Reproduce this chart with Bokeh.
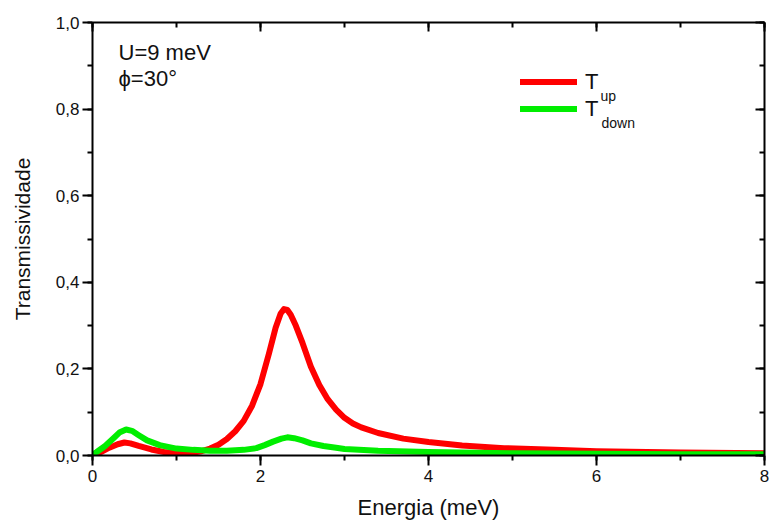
from bokeh.plotting import figure
from bokeh.models import (Range1d, LinearAxis, SingleIntervalTicker, CustomJSTickFormatter,
                          Legend, LegendItem, Label)
from bokeh.embed import file_html
from bokeh.resources import INLINE

# ---- data ----
E_up = [0.0, 0.1, 0.2, 0.3, 0.38, 0.45, 0.55, 0.7, 0.85, 1.0, 1.1, 1.2, 1.3, 1.4, 1.5, 1.6,
        1.7, 1.8, 1.9, 2.0, 2.1, 2.18, 2.24, 2.28, 2.32, 2.36, 2.42, 2.5, 2.6, 2.7, 2.8, 2.9,
        3.0, 3.1, 3.2, 3.4, 3.7, 4.0, 4.4, 4.9, 5.5, 6.0, 7.0, 8.0]
T_up = [0.0, 0.008, 0.018, 0.026, 0.030, 0.028, 0.022, 0.014, 0.008, 0.005, 0.005, 0.007,
        0.010, 0.016, 0.025, 0.038, 0.056, 0.08, 0.115, 0.165, 0.235, 0.295, 0.328, 0.338,
        0.336, 0.325, 0.30, 0.26, 0.205, 0.163, 0.13, 0.106, 0.087, 0.074, 0.065, 0.052,
        0.039, 0.031, 0.023, 0.017, 0.013, 0.010, 0.007, 0.005]

E_down = [0.0, 0.05, 0.15, 0.25, 0.32, 0.4, 0.47, 0.55, 0.65, 0.8, 1.0, 1.2, 1.4, 1.6, 1.8,
          1.95, 2.05, 2.15, 2.25, 2.32, 2.4, 2.5, 2.6, 2.75, 2.9, 3.0, 3.4, 4.0, 5.0, 6.0,
          7.0, 8.0]
T_down = [0.002, 0.008, 0.022, 0.040, 0.053, 0.060, 0.057, 0.047, 0.035, 0.024, 0.016, 0.013,
          0.011, 0.011, 0.013, 0.017, 0.024, 0.032, 0.039, 0.042, 0.040, 0.035, 0.028, 0.022,
          0.018, 0.015, 0.011, 0.008, 0.005, 0.004, 0.003, 0.003]

FONT = "Liberation Sans"

p = figure(width=770, height=522, output_backend="svg", toolbar_location=None,
           x_range=Range1d(0, 8), y_range=Range1d(0, 1.0),
           min_border_left=92, min_border_right=6, min_border_top=22, min_border_bottom=66,
           x_axis_label="Energia (meV)", y_axis_label="Transmissividade")
p.grid.visible = False
p.outline_line_color = None
p.background_fill_color = "white"
p.border_fill_color = "white"

fmt = CustomJSTickFormatter(code="return tick.toFixed(1).replace('.', ',');")
fmt_x = CustomJSTickFormatter(code="return tick.toFixed(0);")
fmt_none = CustomJSTickFormatter(code="return '';")

def style(ax, outward=True):
    ax.axis_line_width = 2
    ax.axis_line_color = "black"
    ax.major_tick_line_width = 2
    ax.minor_tick_line_width = 2
    ax.major_tick_line_color = "black"
    ax.minor_tick_line_color = "black"
    if outward:
        ax.major_tick_out = 10
        ax.major_tick_in = 0
        ax.minor_tick_out = 5
        ax.minor_tick_in = 0
    else:
        ax.major_tick_out = 0
        ax.major_tick_in = 9
        ax.minor_tick_out = 0
        ax.minor_tick_in = 5
    ax.major_label_text_font = FONT
    ax.major_label_text_font_size = "17px"
    ax.major_label_text_color = "#111111"
    ax.axis_label_text_font = FONT
    ax.axis_label_text_font_style = "normal"
    ax.axis_label_text_font_size = "21px"
    ax.axis_label_text_color = "#111111"

p.xaxis.ticker = SingleIntervalTicker(interval=2, num_minor_ticks=2)
p.yaxis.ticker = SingleIntervalTicker(interval=0.2, num_minor_ticks=2)
p.xaxis.formatter = fmt_x
p.yaxis.formatter = fmt
for ax in p.xaxis:
    style(ax)
    ax.major_label_standoff = 4
    ax.axis_label_standoff = 10
    ax.axis_label_text_font_size = "22px"
for ax in p.yaxis:
    style(ax)
    ax.major_label_standoff = 3
    ax.axis_label_standoff = 19

top = LinearAxis(ticker=SingleIntervalTicker(interval=2, num_minor_ticks=2), formatter=fmt_none)
right = LinearAxis(ticker=SingleIntervalTicker(interval=0.2, num_minor_ticks=2), formatter=fmt_none)
for ax in (top, right):
    style(ax, outward=False)
    ax.major_label_standoff = 0
p.add_layout(top, "above")
p.add_layout(right, "right")

r_up = p.line(E_up, T_up, line_color="#ff0000", line_width=6, line_join="round", line_cap="round")
r_dn = p.line(E_down, T_down, line_color="#00ee00", line_width=6, line_join="round", line_cap="round")

legend = Legend(items=[LegendItem(label="T", renderers=[r_up]),
                       LegendItem(label="T", renderers=[r_dn])],
                location=(428, 333), glyph_width=57, glyph_height=27, spacing=0,
                padding=0, margin=0, label_standoff=8, label_height=27,
                label_text_font=FONT, label_text_font_size="22px",
                label_text_color="#111111",
                background_fill_alpha=0, border_line_color=None)
p.add_layout(legend, "center")

for txt, xx, yy in [("up", 600, 456 - 96), ("down", 601, 456 - 123)]:
    p.add_layout(Label(x=xx - 92, y=yy, x_units="screen", y_units="screen", text=txt,
                       text_font=FONT, text_font_size="14px", text_color="#111111",
                       text_baseline="alphabetic"))

for txt, yy in [("U=9 meV", 456 - 53), ("\u03d5=30\u00b0", 456 - 79)]:
    p.add_layout(Label(x=118 - 92, y=yy, x_units="screen", y_units="screen", text=txt,
                       text_font=FONT, text_font_size="22px", text_color="#111111",
                       text_baseline="alphabetic"))

open("out.html", "w").write(file_html(p, INLINE))
